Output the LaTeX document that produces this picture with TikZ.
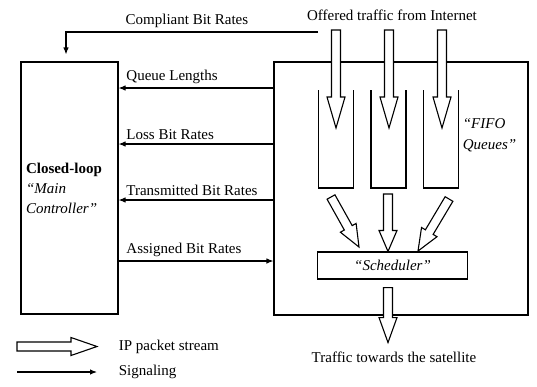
\documentclass[tikz,border=0pt]{standalone}
\usepackage{fontspec}
\setmainfont{Liberation Serif}
\usetikzlibrary{arrows.meta, positioning, calc}

% hollow packet arrow: #1 head length, #2 tail, #3 tip
\newcommand{\pktarrow}[3]{%
  \draw[pkt] ($#2!4.5pt!90:#3$) -- ($($#3!#1!#2$)!4.5pt!90:#3$)
    -- ($($#3!#1!#2$)!9pt!90:#3$) -- #3
    -- ($($#3!#1!#2$)!9pt!-90:#3$) -- ($($#3!#1!#2$)!4.5pt!-90:#3$)
    -- ($#2!4.5pt!-90:#3$) -- cycle;
}

\begin{document}
\begin{tikzpicture}[x=1pt, y=-1pt, line width=1.1pt,
  font=\fontsize{15}{20}\selectfont,
  sig/.style={-{Latex[length=7pt,width=5.5pt]}},
  pkt/.style={fill=white, line join=miter},
  box/.style={draw, rectangle, inner sep=0pt}]
  \useasboundingbox (0,0) rectangle (537,386);

  % controller and the system
  \node[box, minimum width=97pt, minimum height=252pt, align=left, text width=87pt] (ctrl) at (69.5,188)
    {\textbf{Closed-loop}\\\textit{“Main}\\\textit{Controller”}};
  \node[box, minimum width=254pt, minimum height=253pt] (sys) at (401,188.5) {};
  \node (offer) at (392,15) {Offered traffic from Internet};

  % three queues
  \foreach \x in {336,388.5,441}{
    \draw (\x-17.5,90) -- (\x-17.5,188) -- (\x+17.5,188) -- (\x+17.5,90);
  }
  \node[anchor=west, align=left, font=\fontsize{15}{21}\selectfont\itshape] (fifo) at (459,135)
    {“FIFO\\Queues”};
  \node[box, minimum width=150pt, minimum height=27pt, font=\fontsize{15}{20}\selectfont\itshape]
    (sched) at (392.5,265.5) {“Scheduler”};

  % signaling
  \coordinate (cmp) at (318,32);
  \draw[sig] (cmp) -| ($(ctrl.north)+(-3.5,-7)$)
    node[pos=0.26, above] {Compliant Bit Rates};
  \foreach \y/\lbl in {88/Queue Lengths, 144/Loss Bit Rates, 200/Transmitted Bit Rates}{
    \draw[sig] (sys.west |- 0,\y) -- (ctrl.east |- 0,\y)
      node[above right, xshift=4pt] {\lbl};
  }
  \draw[sig] (ctrl.east |- 0,261) -- (sys.west |- 0,261)
    node[pos=0, above right, xshift=4pt] {Assigned Bit Rates};

  % packet streams
  \foreach \x in {336,389,442}{
    \pktarrow{31pt}{(\x,30)}{(\x,128)}
  }
  \coordinate (midtip) at ($(sched.north)+(-4.5,0)$);
  \coordinate (outs) at ($(sched.south)+(-4.5,8)$);
  \coordinate (oute) at ($(sched.south)+(-4.5,63)$);
  \pktarrow{22pt}{(331,197)}{(359,247)}
  \pktarrow{21pt}{(388,194)}{(midtip)}
  \pktarrow{22pt}{(449,199)}{(418,251)}
  \pktarrow{25pt}{(outs)}{(oute)}
  \node (sat) at (394,357) {Traffic towards the satellite};

  % legend
  \coordinate (lg1) at (17,346.5);
  \coordinate (lg2) at (97,346.5);
  \coordinate (lg3) at (17,372);
  \coordinate (lg4) at (97,372);
  \pktarrow{26pt}{(lg1)}{(lg2)}
  \draw[sig] (lg3) -- (lg4);
  \node[anchor=west] (ipleg) at (115,346.5) {IP packet stream};
  \node[anchor=west] (sigleg) at (115,372) {Signaling};
\end{tikzpicture}
\end{document}
